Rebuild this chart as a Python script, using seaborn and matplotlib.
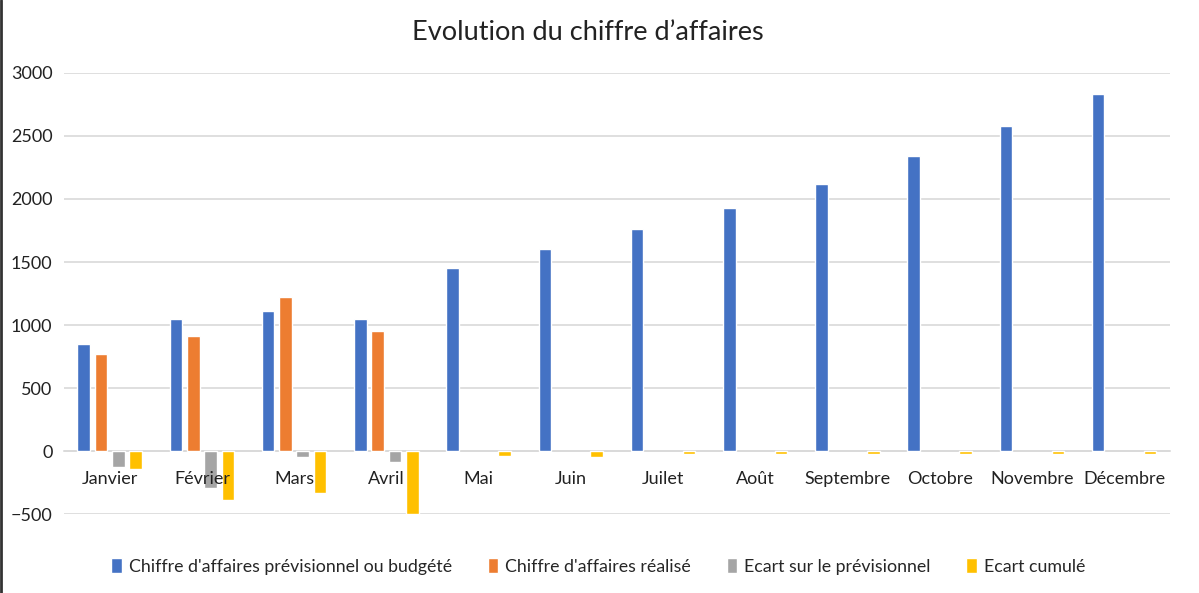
import numpy as np
import pandas as pd
import matplotlib
matplotlib.use("Agg")
import matplotlib.pyplot as plt
from matplotlib.lines import Line2D
import seaborn as sns

sns.set_theme(style="white")
plt.rcParams['font.family'] = ['Lato', 'DejaVu Sans']

# --- data ---
mois = ["Janvier", "Février", "Mars", "Avril", "Mai", "Juin", "Juilet", "Août",
        "Septembre", "Octobre", "Novembre", "Décembre"]
series = ["Chiffre d'affaires prévisionnel ou budgété", "Chiffre d'affaires réalisé",
          "Ecart sur le prévisionnel", "Ecart cumulé"]
previsionnel = [850, 1050, 1110, 1050, 1450, 1600, 1760, 1925, 2120, 2340, 2580, 2830]
realise = [770, 910, 1220, 955] + [np.nan] * 8
ecart = [-130, -290, -50, -85] + [np.nan] * 8
ecart_cumule = [-145, -385, -330, -500, -40, -45, -25, -25, -25, -25, -25, -25]
couleurs = ["#4472C4", "#ED7D31", "#A5A5A5", "#FFC000"]

df = pd.DataFrame({
    "mois": mois * 4,
    "serie": [s for s in series for _ in mois],
    "valeur": previsionnel + realise + ecart + ecart_cumule,
})

fig = plt.figure(figsize=(11.99, 5.93), dpi=100)
ax = fig.add_axes([0.053, 0.133, 0.923, 0.744])

sns.barplot(data=df, x="mois", y="valeur", hue="serie", hue_order=series,
            palette=couleurs, width=0.75, gap=0.27, saturation=1,
            ax=ax, legend=True)

ax.set_ylim(-500, 3000)
ax.set_xlim(-0.5, len(mois) - 0.5)
ax.set_yticks(range(-500, 3001, 500))
ax.yaxis.grid(True, color="#d9d9d9", linewidth=1.2)
ax.set_axisbelow(True)
ax.xaxis.set_zorder(5)  # month names drawn over the bars, as in the reference
for side in ["top", "right", "left"]:
    ax.spines[side].set_visible(False)
ax.spines["bottom"].set_position(("data", 0))
ax.spines["bottom"].set_color("#d9d9d9")
ax.spines["bottom"].set_linewidth(1.2)
ax.spines["bottom"].set_zorder(0.6)
ax.tick_params(axis="both", length=0, labelsize=13, colors="#222222")
ax.tick_params(axis="x", pad=14)
ax.tick_params(axis="y", pad=8)
ax.set_xlabel("")
ax.set_ylabel("")

fig.text(0.49, 0.945, "Evolution du chiffre d’affaires", ha="center", va="center",
         fontsize=19.5, color="#222222")

handles, labels = ax.get_legend_handles_labels()
ax.legend_.remove()
fig.legend(handles, labels, loc="center", bbox_to_anchor=(0.499, 0.045), ncol=4,
           frameon=False, fontsize=12.8, handlelength=0.6, handleheight=0.9,
           handletextpad=0.4, columnspacing=2.0)

fig.add_artist(Line2D([0.001, 0.001], [0, 1], color="#333333", linewidth=2,
                      transform=fig.transFigure))

fig.savefig("out.png", dpi=100)
